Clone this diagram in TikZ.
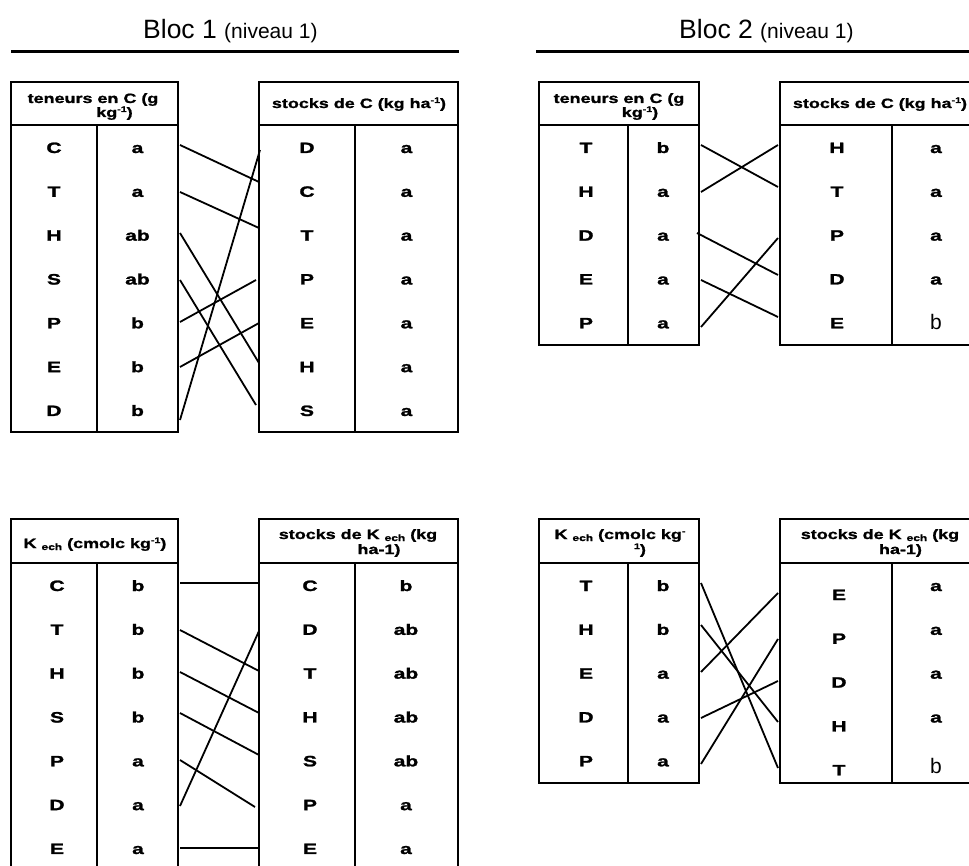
\documentclass[tikz,border=0pt]{standalone}
\usepackage{fontspec}
\setmainfont{Liberation Sans}
\newfontfamily\tabfont[FakeStretch=1.33,FakeBold=1.2]{Liberation Sans}
\newfontfamily\cellfont[FakeStretch=1.4,FakeBold=1.6]{Liberation Sans}
\newcommand\supx[1]{\raisebox{5pt}{\fontsize{8}{8}\selectfont #1}}
\newcommand\subx[1]{\raisebox{-2pt}{\fontsize{9}{9}\selectfont #1}}
\newcommand\tabframe[6]{%
  \draw[frame] (#1,#4) rectangle (#2,#6);
  \draw[frame] (#1,#5) -- (#2,#5);
  \draw[frame] (#3,#5) -- (#3,#6);}
\begin{document}
\begin{tikzpicture}[x=1pt,y=-1pt,
  frame/.style={line width=1.8pt},
  conn/.style={line width=1.8pt},
  rule/.style={line width=3pt},
  hdr/.style={font=\tabfont\bfseries\fontsize{13.5}{14}\selectfont, anchor=base, inner sep=0pt},
  cell/.style={font=\cellfont\bfseries\fontsize{15}{16}\selectfont, anchor=base, inner sep=0pt},
  regb/.style={font=\fontsize{21}{22}\selectfont, anchor=base, inner sep=0pt},
  title/.style={anchor=base west, inner sep=0pt, font=\fontsize{26.5}{28}\selectfont}]
\useasboundingbox (0,0) rectangle (969,866);
\fill[white] (0,0) rectangle (969,866);
\clip (0,0) rectangle (969,866);

% titles and rules
\node[title] (t1) at (143,39) {Bloc 1 {\fontsize{21}{22}\selectfont (niveau 1)}};
\node[title] (t2) at (679,39) {Bloc 2 {\fontsize{21}{22}\selectfont (niveau 1)}};
\draw[rule] (11,52) -- (459,52);
\draw[rule] (536,52) -- (975,52);

% table frames
\tabframe{11}{178}{97}{82}{125}{432}
\tabframe{259}{458}{355}{82}{125}{432}
\tabframe{539}{699}{628}{82}{125}{345}
\tabframe{780}{979}{892}{82}{125}{345}
\tabframe{11}{178}{97}{519}{563}{880}
\tabframe{259}{458}{355}{519}{563}{880}
\tabframe{539}{699}{628}{519}{563}{783}
\tabframe{780}{979}{892}{519}{563}{783}

% headers
\node[hdr] (h1a) at (93,103) {teneurs en C (g};
\node[hdr] (h1b) at (114.5,117) {kg\supx{-1})};
\node[hdr] (h2) at (359,108) {stocks de C (kg ha\supx{-1})};
\node[hdr] (h3a) at (619,103) {teneurs en C (g};
\node[hdr] (h3b) at (640,117) {kg\supx{-1})};
\node[hdr] (h4) at (880,108) {stocks de C (kg ha\supx{-1})};
\node[hdr] (h5) at (95,548) {K \subx{ech} (cmolc kg\supx{-1})};
\node[hdr] (h6a) at (358,539) {stocks de K \subx{ech} (kg};
\node[hdr] (h6b) at (379,554) {ha-1)};
\node[hdr] (h7a) at (620,539) {K \subx{ech} (cmolc kg\supx{-}};
\node[hdr] (h7b) at (640,554) {\supx{1})};
\node[hdr] (h8a) at (880,539) {stocks de K \subx{ech} (kg};
\node[hdr] (h8b) at (900.5,554) {ha-1)};

% Bloc 1, carbon
\foreach \t [count=\i from 0] in {C,T,H,S,P,E,D}
  \node[cell] (aL\i) at (54,{153+43.83*\i}) {\t};
\foreach \t [count=\i from 0] in {a,a,ab,ab,b,b,b}
  \node[cell] (aV\i) at (137.5,{153+43.83*\i}) {\t};
\foreach \t [count=\i from 0] in {D,C,T,P,E,H,S}
  \node[cell] (bL\i) at (307,{153+43.83*\i}) {\t};
\foreach \t [count=\i from 0] in {a,a,a,a,a,a,a}
  \node[cell] (bV\i) at (406.5,{153+43.83*\i}) {\t};

% Bloc 2, carbon
\foreach \t [count=\i from 0] in {T,H,D,E,P}
  \node[cell] (cL\i) at (586,{153+43.83*\i}) {\t};
\foreach \t [count=\i from 0] in {b,a,a,a,a}
  \node[cell] (cV\i) at (663,{153+43.83*\i}) {\t};
\foreach \t [count=\i from 0] in {H,T,P,D,E}
  \node[cell] (dL\i) at (837,{153+43.83*\i}) {\t};
\foreach \t [count=\i from 0] in {a,a,a,a}
  \node[cell] (dV\i) at (936,{153+43.83*\i}) {\t};
\node[regb] (dV4) at (936,330) {b};

% Bloc 1, potassium
\foreach \t [count=\i from 0] in {C,T,H,S,P,D,E}
  \node[cell] (eL\i) at (57,{591+43.83*\i}) {\t};
\foreach \t [count=\i from 0] in {b,b,b,b,a,a,a}
  \node[cell] (eV\i) at (138,{591+43.83*\i}) {\t};
\foreach \t [count=\i from 0] in {C,D,T,H,S,P,E}
  \node[cell] (fL\i) at (310,{591+43.83*\i}) {\t};
\foreach \t [count=\i from 0] in {b,ab,ab,ab,ab,a,a}
  \node[cell] (fV\i) at (406,{591+43.83*\i}) {\t};

% Bloc 2, potassium
\foreach \t [count=\i from 0] in {T,H,E,D,P}
  \node[cell] (gL\i) at (586,{591+43.83*\i}) {\t};
\foreach \t [count=\i from 0] in {b,b,a,a,a}
  \node[cell] (gV\i) at (663,{591+43.83*\i}) {\t};
\foreach \t [count=\i from 0] in {E,P,D,H,T}
  \node[cell] (hL\i) at (839,{600+43.83*\i}) {\t};
\foreach \t [count=\i from 0] in {a,a,a,a}
  \node[cell] (hV\i) at (936,{591+43.83*\i}) {\t};
\node[regb] (hV4) at (936,773) {b};

% connectors
\foreach \n/\xa/\ya/\xb/\yb in {
  a1/180/145/259/182, a2/180/192/259/228, a3/180/233/259/363,
  a4/180/280/256/405, a5/180/322/256/280, a6/180/367/259/323,
  a7/180/420/260/150,
  b1/701/145/778/187, b2/701/192/778/145, b3/697/233/778/275,
  b4/701/280/778/317, b5/701/327/778/238,
  c1/180/583/259/583, c2/180/630/259/671, c3/180/672/259/713,
  c4/180/713/259/755, c5/180/760/255/807, c6/180/806/259/631,
  c7/180/848/259/848,
  d1/701/583/778/768, d2/701/625/778/722, d3/701/672/778/593,
  d4/701/718/778/681, d5/701/764/778/639}{
  \coordinate (s\n) at (\xa,\ya);
  \coordinate (e\n) at (\xb,\yb);
  \draw[conn] (s\n) -- (e\n);
}
\end{tikzpicture}
\end{document}
